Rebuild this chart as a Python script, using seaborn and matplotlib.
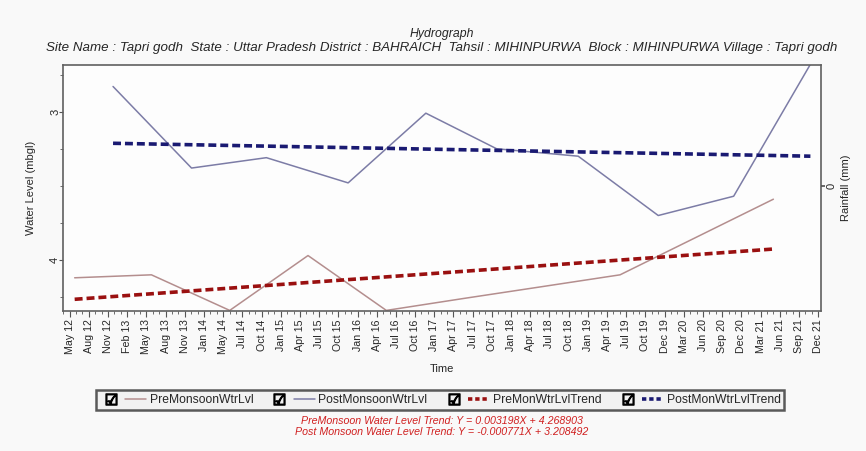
import matplotlib
matplotlib.use("Agg")
import matplotlib.pyplot as plt
import pandas as pd
import seaborn as sns
from matplotlib.lines import Line2D
from matplotlib.legend_handler import HandlerTuple
from matplotlib.ticker import MultipleLocator

# tick labels along the time axis (evenly spaced categories)
time_labels = [
    "May 12", "Aug 12", "Nov 12", "Feb 13", "May 13", "Aug 13", "Nov 13", "Jan 14",
    "May 14", "Jul 14", "Oct 14", "Jan 15", "Apr 15", "Jul 15", "Oct 15", "Jan 16",
    "Apr 16", "Jul 16", "Oct 16", "Jan 17", "Apr 17", "Jul 17", "Oct 17", "Jan 18",
    "Apr 18", "Jul 18", "Oct 18", "Jan 19", "Apr 19", "Jul 19", "Oct 19", "Dec 19",
    "Mar 20", "Jun 20", "Sep 20", "Dec 20", "Mar 21", "Jun 21", "Sep 21", "Dec 21",
]

# pre monsoon water level (mbgl), position on the category axis
pre_pos = [0.26, 4.26, 8.34, 12.42, 16.5, 20.5, 24.6, 28.68, 32.6, 36.67]
pre_level = [4.12, 4.10, 4.34, 3.97, 4.34, 4.26, 4.18, 4.10, 3.85, 3.59]

# post monsoon water level (mbgl)
post_pos = [2.26, 6.35, 10.25, 14.51, 18.56, 22.25, 26.5, 30.67, 34.6, 38.6]
post_level = [2.83, 3.38, 3.31, 3.48, 3.01, 3.25, 3.30, 3.70, 3.57, 2.68]

# trend lines (start / end)
pre_trend_pos = [0.26, 36.67]
pre_trend_level = [4.265, 3.926]
post_trend_pos = [2.26, 38.6]
post_trend_level = [3.213, 3.30]

eq_pre = "PreMonsoon Water Level Trend: Y = 0.003198X + 4.268903"
eq_post = "Post Monsoon Water Level Trend: Y = -0.000771X + 3.208492"
subtitle = ("Site Name : Tapri godh  State : Uttar Pradesh District : BAHRAICH  "
            "Tahsil : MIHINPURWA  Block : MIHINPURWA Village : Tapri godh")

df_pre = pd.DataFrame({"pos": pre_pos, "level": pre_level})
df_post = pd.DataFrame({"pos": post_pos, "level": post_level})
df_pre_tr = pd.DataFrame({"pos": pre_trend_pos, "level": pre_trend_level})
df_post_tr = pd.DataFrame({"pos": post_trend_pos, "level": post_trend_level})

sns.set_theme(style="white")
plt.rcParams["font.family"] = ["Liberation Sans", "DejaVu Sans"]

c_pre = "#b48e8e"
c_post = "#7c7ca6"
c_pre_tr = "#9a1010"
c_post_tr = "#1a1a72"

fig = plt.figure(figsize=(8.66, 4.51), dpi=100, facecolor="#f9f9f9")
ax = fig.add_axes([0.0727, 0.3104, 0.8753, 0.5455])
ax.set_facecolor("#fdfdfd")

sns.lineplot(data=df_pre, x="pos", y="level", sort=False, color=c_pre, lw=1.1, ax=ax)
sns.lineplot(data=df_post, x="pos", y="level", sort=False, color=c_post, lw=1.1, ax=ax)
sns.lineplot(data=df_pre_tr, x="pos", y="level", sort=False, color=c_pre_tr, lw=2.6,
             ax=ax).lines[-1].set_dashes([2.2, 1.1])
sns.lineplot(data=df_post_tr, x="pos", y="level", sort=False, color=c_post_tr, lw=2.6,
             ax=ax).lines[-1].set_dashes([2.2, 1.1])

ax.set_xlim(-0.35, 39.15)
ax.set_ylim(4.344, 2.685)
ax.set_xticks(range(len(time_labels)))
ax.set_xticklabels(time_labels, rotation=90, fontsize=7.7)
ax.xaxis.set_minor_locator(MultipleLocator(1 / 3))
ax.set_yticks([3, 4])
ax.set_yticklabels(["3", "4"], rotation=90, va="center", fontsize=8)
ax.yaxis.set_minor_locator(MultipleLocator(0.25))
ax.tick_params(which="major", direction="out", length=4, width=0.8, color="#555555",
               bottom=True, left=True, pad=2)
ax.tick_params(axis="y", which="major", length=3, pad=-1)
ax.tick_params(which="minor", direction="out", length=2, width=0.6, color="#555555",
               bottom=True, left=True)
ax.set_xlabel("Time", fontsize=8)
ax.xaxis.set_label_coords(0.5, -0.215)
ax.set_ylabel("Water Level (mbgl)", fontsize=8)
ax.yaxis.set_label_coords(-0.036, 0.5)
for s in ax.spines.values():
    s.set_color("#606060")
    s.set_linewidth(1.2)

ax2 = ax.twinx()
ax2.set_ylim(-1.02, 0.98)
ax2.set_yticks([0])
ax2.set_yticklabels(["0"], rotation=90, va="center", fontsize=8)
ax2.tick_params(direction="out", length=3, right=True, color="#555555", pad=1)
ax2.set_ylabel("Rainfall (mm)", fontsize=8)
ax2.yaxis.set_label_coords(1.027, 0.5)
ax2.grid(False)
for s in ax2.spines.values():
    s.set_visible(False)

xc = 442 / 866
fig.text(xc, 1 - 34 / 451, "Hydrograph", ha="center", va="center", fontsize=8.8, style="italic")
fig.text(xc, 1 - 48 / 451, subtitle, ha="center", va="center", fontsize=9.6, style="italic")

check = Line2D([], [], ls="none", marker="$\u2611$", color="black", markersize=8)
handles = [
    (check, Line2D([], [], color=c_pre, lw=1.1)),
    (check, Line2D([], [], color=c_post, lw=1.1)),
    (check, Line2D([], [], color=c_pre_tr, lw=2.6, dashes=[1.2, 0.8])),
    (check, Line2D([], [], color=c_post_tr, lw=2.6, dashes=[1.2, 0.8])),
]
labels = ["PreMonsoonWtrLvl", "PostMonsoonWtrLvl", "PreMonWtrLvlTrend", "PostMonWtrLvlTrend"]
leg = fig.legend(handles, labels, handler_map={tuple: HandlerTuple(ndivide=None, pad=0.3)},
                 ncol=4, loc="center", bbox_to_anchor=(xc - 0.002, 1 - 400 / 451), fontsize=8.7,
                 handlelength=3.8, handletextpad=0.3, columnspacing=1.3, borderpad=0.3,
                 fancybox=False, framealpha=1, facecolor="#f2f2f2", edgecolor="#5a5a5a")
leg.get_frame().set_linewidth(1.8)

fig.text(xc, 1 - 421 / 451, eq_pre, ha="center", va="center", fontsize=7.7,
         style="italic", color="#d02020")
fig.text(xc, 1 - 432 / 451, eq_post, ha="center", va="center", fontsize=7.7,
         style="italic", color="#d02020")

fig.savefig("out.png", dpi=100, facecolor=fig.get_facecolor())
